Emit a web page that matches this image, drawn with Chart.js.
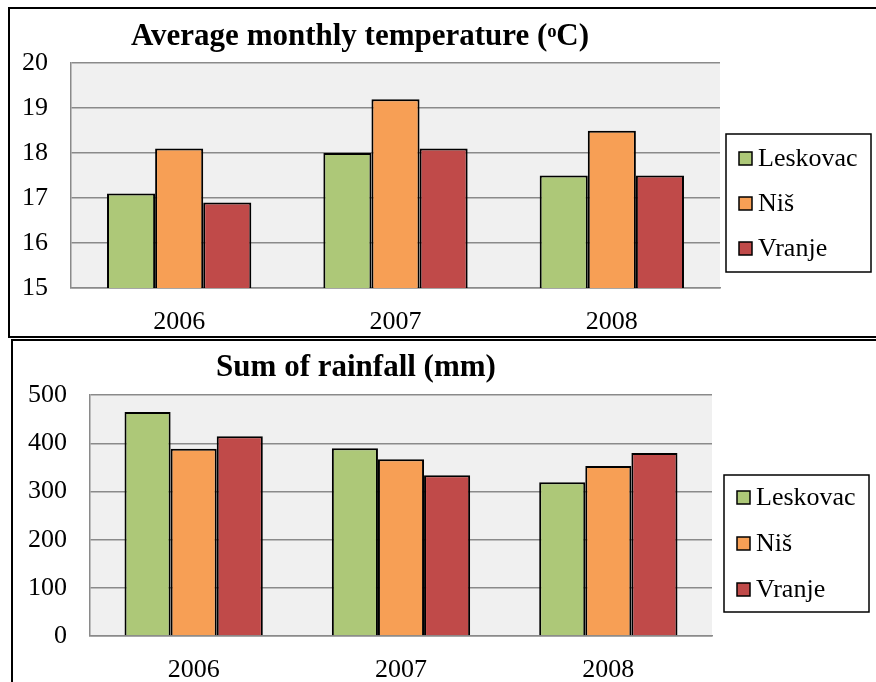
<!DOCTYPE html>
<html>
<head>
<meta charset="utf-8">
<script src="https://cdn.jsdelivr.net/npm/chart.js@4.4.1/dist/chart.umd.min.js"></script>
<style>
  html, body { margin: 0; padding: 0; background: #fff; overflow: hidden; width: 876px; height: 682px; }
  .frame { position: absolute; border: 2px solid #000; box-sizing: border-box; }
  canvas { position: absolute; left: 0; }
</style>
</head>
<body>
<div class="frame" style="left:8px; top:7px; width:900px; height:331px;"></div>
<div class="frame" style="left:11px; top:339px; width:900px; height:400px;"></div>
<canvas id="tempChart" width="876" height="338" style="top:0;"></canvas>
<canvas id="rainChart" width="876" height="342" style="top:340px;"></canvas>
<script>
// 데이터
const years = ['2006', '2007', '2008'];
const cities = ['Leskovac', 'Niš', 'Vranje'];
const cityColors = ['#adc878', '#f79f55', '#c04a49'];

const tempLeskovac = [17.1, 18.0, 17.5];
const tempNis = [18.1, 19.2, 18.5];
const tempVranje = [16.9, 18.1, 17.5];

const rainLeskovac = [465, 390, 319];
const rainNis = [389, 367, 353];
const rainVranje = [415, 334, 380];

const tempTicks = [15, 16, 17, 18, 19, 20];
const rainTicks = [0, 100, 200, 300, 400, 500];

const serif = '"Liberation Serif", "Times New Roman", serif';
const gridGray = '#8a8a8a';

// 플롯 영역 회색 배경
const plotBg = {
    id: 'plotBg',
    beforeDraw(chart) {
        const a = chart.chartArea;
        const ctx = chart.ctx;
        ctx.save();
        ctx.fillStyle = '#f0f0f0';
        ctx.fillRect(a.left, a.top, a.right - a.left, a.bottom - a.top);
        ctx.restore();
    }
};

// 테두리 있는 범례
const boxLegend = {
    id: 'boxLegend',
    afterDraw(chart, args, opts) {
        const ctx = chart.ctx;
        ctx.save();
        ctx.lineWidth = 1.5;
        ctx.strokeStyle = '#000';
        ctx.strokeRect(opts.x, opts.y, opts.w, opts.h);
        ctx.font = '26px ' + serif;
        ctx.textBaseline = 'middle';
        chart.data.datasets.forEach((ds, i) => {
            const cy = opts.firstY + i * opts.gap;
            ctx.fillStyle = ds.backgroundColor;
            ctx.fillRect(opts.x + 13, cy - 6, 13, 13);
            ctx.lineWidth = 1.5;
            ctx.strokeRect(opts.x + 13, cy - 6, 13, 13);
            ctx.fillStyle = '#000';
            ctx.fillText(ds.label, opts.x + 32, cy + 1);
        });
        ctx.restore();
    }
};

function makeDatasets(values) {
    return values.map((v, i) => ({
        label: cities[i],
        data: v,
        backgroundColor: cityColors[i],
        borderColor: '#000',
        borderWidth: 2,
        barPercentage: 1.0,
        categoryPercentage: 0.667
    }));
}

function makeChart(id, cfg) {
    return new Chart(document.getElementById(id), {
        type: 'bar',
        data: {
            labels: years,
            datasets: makeDatasets(cfg.values)
        },
        options: {
            responsive: false,
            animation: false,
            layout: {
                padding: { left: 0, top: 0, right: cfg.padRight, bottom: 0 }
            },
            scales: {
                x: {
                    grid: { display: false },
                    border: { display: true, color: gridGray, width: 1.5 },
                    ticks: { color: '#000', font: { family: serif, size: 26 }, padding: 11 },
                    afterFit: function(scale) { scale.height = cfg.xHeight; }
                },
                y: {
                    min: cfg.ticks[0],
                    max: cfg.ticks[cfg.ticks.length - 1],
                    afterBuildTicks: function(scale) {
                        scale.ticks = cfg.ticks.map(v => ({ value: v }));
                    },
                    grid: { color: gridGray, lineWidth: 1.5, drawTicks: false },
                    border: { display: true, color: gridGray, width: 1.5 },
                    ticks: { color: '#000', font: { family: serif, size: 26 }, padding: 23 },
                    afterFit: function(scale) { scale.width = cfg.yWidth; }
                }
            },
            plugins: {
                legend: { display: false },
                tooltip: { enabled: false },
                title: {
                    display: true,
                    text: cfg.title,
                    color: '#000',
                    font: { family: serif, size: 31, weight: 'bold' },
                    padding: cfg.titlePad
                },
                boxLegend: cfg.legend
            }
        },
        plugins: [plotBg, boxLegend]
    });
}

makeChart('tempChart', {
    values: [tempLeskovac, tempNis, tempVranje],
    ticks: tempTicks,
    title: 'Average monthly temperature (ᵒC)',
    titlePad: { top: 18, bottom: 8 },
    padRight: 156,
    yWidth: 71,
    xHeight: 50,
    legend: { x: 726, y: 134, w: 145, h: 138, firstY: 158, gap: 45 }
});

makeChart('rainChart', {
    values: [rainLeskovac, rainNis, rainVranje],
    ticks: rainTicks,
    title: 'Sum of rainfall (mm)',
    titlePad: { top: 9, bottom: 9 },
    padRight: 164,
    yWidth: 90,
    xHeight: 46,
    legend: { x: 724, y: 135, w: 145, h: 137, firstY: 157, gap: 46 }
});
</script>
</body>
</html>
